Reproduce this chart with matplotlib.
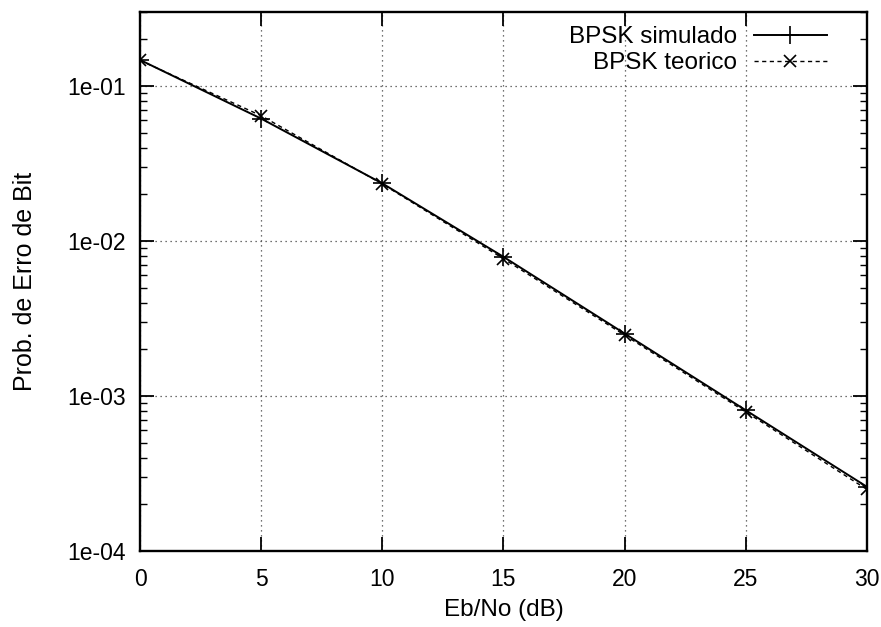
import numpy as np
import matplotlib.pyplot as plt
from matplotlib.ticker import LogLocator, FixedLocator, NullFormatter

plt.rcParams['font.family'] = ['Liberation Sans', 'DejaVu Sans']

# Data
ebno_db = [0, 5, 10, 15, 20, 25, 30]
ber_simulado = [0.147, 0.0615, 0.0235, 0.0079, 0.00253, 0.00081, 0.00026]
ber_teorico = [0.146, 0.0642, 0.0233, 0.00768, 0.00247, 0.00079, 0.00025]
y_ticks = [1e-4, 1e-3, 1e-2, 1e-1]
y_labels = ['1e-04', '1e-03', '1e-02', '1e-01']

fig = plt.figure(figsize=(8.81, 6.27), dpi=100)
ax = fig.add_axes([0.159, 0.121, 0.825, 0.860])

ax.plot(ebno_db, ber_simulado, '-', color='black', lw=1.4,
        marker='+', ms=13, mew=1.2, label='BPSK simulado')
ax.plot(ebno_db, ber_teorico, '--', color='black', lw=1.0,
        dashes=(3, 2.5), marker='x', ms=9, mew=1.2, label='BPSK teorico')

ax.set_yscale('log')
ax.set_xlim(0, 30)
ax.set_ylim(1e-4, 0.3)
ax.set_xticks(ebno_db)
ax.yaxis.set_major_locator(FixedLocator(y_ticks))
ax.set_yticklabels(y_labels)
ax.yaxis.set_minor_locator(LogLocator(base=10, subs=np.arange(2, 10)))
ax.yaxis.set_minor_formatter(NullFormatter())

ax.tick_params(which='both', direction='in', top=True, right=True,
               labelsize=16.5, color='black')
ax.tick_params(which='major', length=10, width=1.3)
ax.tick_params(which='minor', length=5, width=1.0)
ax.tick_params(axis='x', which='major', pad=12)
ax.tick_params(axis='y', which='major', pad=10)

ax.grid(True, which='major', linestyle=(0, (1, 3)), color='#444444', lw=0.9)
for s in ax.spines.values():
    s.set_linewidth(1.7)

ax.set_xlabel('Eb/No (dB)', fontsize=17.5, labelpad=6)
ax.set_ylabel('Prob. de Erro de Bit', fontsize=18, labelpad=22)

leg = ax.legend(loc='upper right', bbox_to_anchor=(0.945, 0.973), frameon=False,
                markerfirst=False, fontsize=17.5, handlelength=3.0,
                borderaxespad=0, borderpad=0, labelspacing=0.15,
                handletextpad=0.7)
for t in leg.get_texts():
    t.set_ha('right')

fig.savefig('out.png', dpi=100)
